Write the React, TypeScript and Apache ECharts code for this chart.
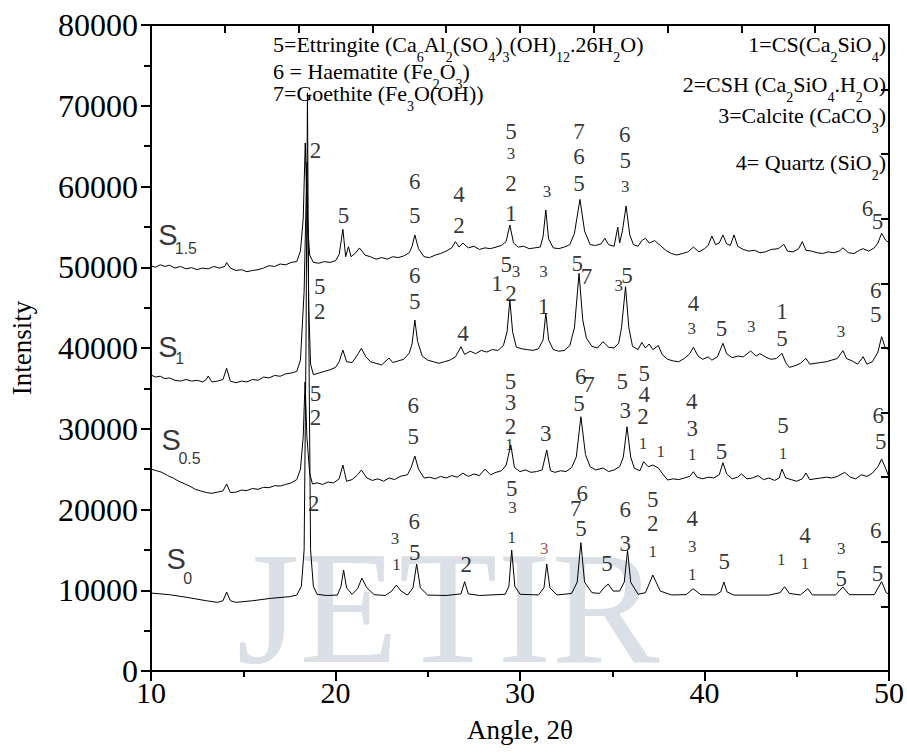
import { useEffect, useRef } from "react";
import * as echarts from "echarts";

// ---------- data: [angle (2θ), intensity] ----------
const S0: number[][] = [
  [10, 9650], [11, 9450], [12, 9100], [13, 8700], [13.6, 8500], [13.9, 8700], [14.1, 9780], [14.3, 8700],
  [14.6, 8500], [15.5, 8700], [16.5, 9000], [17.5, 9200], [17.9, 9400], [18.15, 10500], [18.3, 15000],
  [18.4, 40000], [18.48, 71600], [18.56, 40000], [18.65, 15000], [18.8, 10500], [19.0, 9500], [19.5, 9350],
  [20.1, 9400], [20.3, 10500], [20.44, 12500], [20.6, 10300], [20.9, 9500], [21.2, 10200], [21.43, 11500],
  [21.7, 10300], [22.1, 9450], [22.7, 9350], [23.05, 9900], [23.3, 10650], [23.55, 9900], [23.9, 9400],
  [24.2, 10300], [24.4, 13250], [24.6, 10300], [25, 9400], [26, 9350], [26.8, 9550], [27.0, 11060],
  [27.2, 9550], [27.8, 9350], [29.2, 9500], [29.4, 10500], [29.55, 14980], [29.72, 10500], [30, 9500],
  [31.0, 9420], [31.3, 10300], [31.45, 13250], [31.62, 10300], [32, 9420], [32.8, 9600], [33.1, 11000],
  [33.3, 15890], [33.5, 11000], [33.9, 9700], [34.3, 9600], [34.55, 10300], [34.78, 10770], [35.05, 9900],
  [35.4, 9900], [35.65, 11000], [35.83, 14900], [36.0, 11000], [36.4, 9500], [36.8, 9700], [37.2, 11890],
  [37.6, 9900], [38.2, 9420], [39.0, 9450], [39.38, 10190], [39.8, 9450], [40.6, 9420], [40.88, 9800],
  [41.05, 11020], [41.22, 9800], [41.6, 9400], [43.5, 9400], [44.1, 9700], [44.34, 10440], [44.6, 9600],
  [45.2, 9420], [45.6, 10190], [45.85, 9420], [47.1, 9420], [47.5, 10400], [47.85, 9450], [49.2, 9450],
  [49.6, 11060], [49.85, 9700], [50, 9500],
];

const S05: number[][] = [
  [10, 25000], [10.3, 24800], [10.6, 24600], [10.9, 24200], [11.2, 23900], [11.5, 23500], [11.8, 23200],
  [12.1, 22900], [12.4, 22500], [12.7, 22300], [13.0, 22100], [13.3, 22000], [13.6, 22150], [13.9, 22300],
  [14.1, 23160], [14.3, 22100], [14.6, 22150], [14.9, 22400], [15.2, 22350], [15.5, 22600], [15.8, 22500],
  [16.1, 22750], [16.4, 22700], [16.7, 22950], [17.0, 22900], [17.3, 23100], [17.6, 23300], [17.9, 23700],
  [18.1, 25000], [18.25, 29000], [18.35, 35800], [18.45, 29000], [18.6, 24500], [18.75, 23160], [19.0, 23300],
  [19.3, 23100], [19.6, 23400], [19.9, 23300], [20.2, 23800], [20.4, 25510], [20.6, 23500], [20.9, 23700],
  [21.2, 24300], [21.4, 24890], [21.7, 23900], [22.0, 23600], [22.3, 23800], [22.6, 23500], [22.9, 23900],
  [23.2, 23700], [23.5, 24100], [23.9, 24300], [24.1, 25200], [24.3, 26620], [24.5, 25000], [24.8, 23900],
  [25.1, 24000], [25.4, 23800], [25.7, 24100], [26.0, 23900], [26.3, 24200], [26.6, 24000], [26.9, 24500],
  [27.2, 24100], [27.5, 24400], [27.8, 24200], [28.1, 25000], [28.4, 24300], [28.7, 24600], [29.0, 24800],
  [29.25, 25500], [29.5, 27990], [29.7, 25200], [30.0, 24700], [30.3, 24900], [30.6, 24600], [30.9, 24700],
  [31.2, 24900], [31.45, 27370], [31.65, 24800], [31.9, 24600], [32.2, 24800], [32.5, 24700], [32.8, 25200],
  [33.05, 26500], [33.3, 31490], [33.55, 26800], [33.8, 25300], [34.1, 24900], [34.5, 25140], [34.8, 24700],
  [35.1, 24900], [35.4, 25300], [35.6, 26500], [35.8, 30250], [36.0, 26500], [36.2, 25100], [36.5, 24800],
  [36.7, 25920], [36.95, 25300], [37.2, 25500], [37.5, 25140], [37.7, 24500], [38.0, 23650], [38.3, 23800],
  [38.6, 23700], [38.9, 23900], [39.2, 24100], [39.4, 24680], [39.6, 24000], [39.9, 23800], [40.2, 24000],
  [40.5, 23900], [40.8, 24300], [41.0, 25800], [41.2, 24400], [41.5, 23800], [41.8, 24000], [42.0, 24400],
  [42.3, 23800], [42.6, 23900], [42.9, 24200], [43.2, 23700], [43.5, 23900], [43.8, 23600], [44.05, 23900],
  [44.2, 25010], [44.4, 23900], [44.7, 23700], [45.0, 23500], [45.3, 23800], [45.5, 24520], [45.7, 23700],
  [46.0, 23800], [46.3, 23900], [46.6, 24000], [46.9, 23900], [47.2, 24100], [47.6, 24600], [47.9, 24000],
  [48.2, 23800], [48.5, 24300], [48.8, 24100], [49.1, 24500], [49.4, 25300], [49.6, 26250], [49.8, 25200],
  [50, 24000],
];

const S1: number[][] = [
  [10, 36650], [10.25, 36400], [10.5, 36500], [10.75, 36200], [11.0, 36300], [11.3, 36000], [11.6, 35900],
  [11.9, 36100], [12.2, 35900], [12.5, 36000], [12.8, 35800], [13.0, 36100], [13.1, 36530], [13.3, 35800],
  [13.6, 35900], [13.9, 36100], [14.1, 37490], [14.3, 35900], [14.6, 35700], [14.9, 35900], [15.2, 35800],
  [15.5, 36100], [15.8, 36000], [16.1, 36400], [16.4, 36300], [16.7, 36600], [17.0, 36500], [17.3, 36800],
  [17.6, 36900], [17.9, 37100], [18.1, 38500], [18.3, 47000], [18.45, 63000], [18.55, 45000], [18.65, 38000],
  [18.8, 36700], [19.1, 36900], [19.4, 37100], [19.7, 37300], [20.0, 37600], [20.2, 38300], [20.4, 39750],
  [20.6, 38300], [20.9, 38200], [21.15, 39000], [21.4, 39960], [21.65, 38900], [21.9, 38300], [22.2, 38100],
  [22.5, 37900], [22.9, 38760], [23.1, 38200], [23.4, 38400], [23.7, 38600], [24.0, 39400], [24.15, 40500],
  [24.3, 43470], [24.45, 40800], [24.7, 39000], [25.0, 38500], [25.3, 38300], [25.6, 38100], [25.9, 38300],
  [26.2, 38500], [26.5, 38900], [26.8, 40160], [27.0, 39200], [27.3, 39600], [27.6, 39300], [27.9, 39700],
  [28.2, 39500], [28.5, 39800], [28.8, 39700], [29.1, 40300], [29.3, 42000], [29.45, 45950], [29.6, 42000],
  [29.8, 40100], [30.1, 39900], [30.4, 39800], [30.7, 39700], [31.0, 39900], [31.25, 41000], [31.4, 44300],
  [31.55, 41000], [31.8, 39800], [32.1, 39600], [32.4, 39700], [32.7, 40300], [32.95, 42500], [33.2, 49250],
  [33.4, 43500], [33.6, 41200], [33.9, 40200], [34.2, 40000], [34.5, 40780], [34.8, 40100], [35.1, 40000],
  [35.35, 40600], [35.5, 42500], [35.72, 47590], [35.9, 42500], [36.1, 40200], [36.4, 39800], [36.6, 40700],
  [36.8, 40000], [37.0, 40500], [37.2, 39800], [37.5, 40300], [37.7, 39200], [38.0, 38600], [38.3, 38400],
  [38.6, 38300], [38.9, 38700], [39.2, 39300], [39.4, 40090], [39.65, 39000], [39.9, 38600], [40.2, 38900],
  [40.4, 38500], [40.7, 38900], [41.0, 40580], [41.2, 39300], [41.5, 38800], [41.8, 39000], [42.1, 38900],
  [42.5, 39630], [42.8, 39000], [43.0, 39300], [43.3, 38900], [43.6, 38600], [43.9, 38700], [44.2, 39340],
  [44.4, 38200], [44.6, 37600], [44.9, 37800], [45.2, 38100], [45.5, 38720], [45.7, 38000], [46.0, 38100],
  [46.3, 38200], [46.6, 38300], [46.9, 38500], [47.2, 38700], [47.5, 39670], [47.7, 38700], [48.0, 38400],
  [48.3, 38000], [48.6, 38920], [48.8, 38000], [49.1, 38300], [49.4, 39500], [49.6, 41400], [49.8, 40000],
  [50, 39800],
];

const S15: number[][] = [
  [10, 50160], [10.25, 50000], [10.5, 50300], [10.75, 50100], [11.0, 50250], [11.3, 49900], [11.6, 50100],
  [11.9, 49800], [12.2, 49950], [12.5, 49700], [12.8, 49900], [13.1, 49800], [13.4, 50100], [13.7, 49900],
  [14.0, 50100], [14.1, 50570], [14.3, 49900], [14.6, 49600], [14.9, 49700], [15.2, 49450], [15.5, 49600],
  [15.8, 49700], [16.1, 49900], [16.4, 50200], [16.7, 50100], [17.0, 50400], [17.3, 50300], [17.6, 50600],
  [17.9, 50700], [18.1, 52000], [18.25, 56000], [18.36, 65400], [18.47, 56000], [18.6, 51500], [18.8, 50600],
  [19.1, 50500], [19.4, 50700], [19.7, 50600], [20.0, 50800], [20.2, 51600], [20.4, 54700], [20.55, 51300],
  [20.7, 52550], [20.85, 51300], [21.1, 51800], [21.3, 52390], [21.6, 51500], [21.9, 51300], [22.2, 51000],
  [22.5, 51200], [22.8, 51000], [23.1, 51300], [23.4, 51200], [23.7, 51400], [24.0, 51800], [24.15, 52600],
  [24.3, 54000], [24.5, 52300], [24.8, 51300], [25.1, 51200], [25.4, 51500], [25.7, 51700], [26.0, 52000],
  [26.3, 52400], [26.5, 53170], [26.7, 52500], [26.9, 53000], [27.2, 52400], [27.5, 52600], [27.8, 52200],
  [28.1, 52400], [28.4, 52300], [28.7, 52500], [29.0, 52700], [29.25, 53200], [29.45, 55230], [29.65, 53000],
  [29.9, 52500], [30.2, 52600], [30.5, 52300], [30.8, 52400], [31.1, 52500], [31.25, 53800], [31.4, 57090],
  [31.55, 53500], [31.8, 52400], [32.1, 52300], [32.4, 52500], [32.7, 52800], [32.95, 54200], [33.25, 58400],
  [33.5, 54500], [33.8, 52800], [34.1, 52700], [34.4, 52900], [34.6, 53600], [34.8, 52800], [35.1, 52600],
  [35.3, 54980], [35.4, 53000], [35.55, 54500], [35.75, 57590], [35.95, 54000], [36.15, 52800], [36.4, 52600],
  [36.6, 53300], [36.8, 53590], [37.0, 53000], [37.3, 53300], [37.6, 52700], [37.9, 52100], [38.2, 51700],
  [38.5, 51520], [38.8, 51700], [39.1, 51900], [39.4, 52500], [39.7, 51900], [40.0, 52300], [40.2, 52700],
  [40.4, 53870], [40.6, 52800], [40.8, 53000], [41.0, 54000], [41.2, 52900], [41.4, 52700], [41.6, 54000],
  [41.8, 52600], [42.1, 52200], [42.4, 52000], [42.7, 52100], [43.0, 51800], [43.3, 51900], [43.6, 52200],
  [44.0, 52300], [44.3, 52840], [44.5, 52000], [44.8, 51900], [45.1, 52300], [45.3, 53170], [45.5, 52100],
  [45.8, 52000], [46.1, 51800], [46.4, 51700], [46.7, 51900], [47.0, 51800], [47.3, 52000], [47.5, 52400],
  [47.8, 51800], [48.1, 51700], [48.4, 52100], [48.6, 52300], [48.9, 52000], [49.2, 52400], [49.4, 53000],
  [49.6, 54200], [49.8, 53400], [50, 53000],
];

// ---------- peak annotations: [angle, intensity, phase number, kind] ----------
type Ann = [number, number, string, string];
const S15_PEAKS: Ann[] = [
  [18.91, 64520, "2", "b"], [20.44, 56470, "5", "b"],
  [24.3, 60600, "6", "b"], [24.3, 56350, "5", "b"],
  [26.7, 58950, "4", "b"], [26.7, 55110, "2", "b"],
  [29.51, 66790, "5", "b"], [29.51, 64030, "3", "s"], [29.51, 60400, "2", "b"], [29.51, 56680, "1", "b"],
  [31.46, 59360, "3", "s"],
  [33.2, 66790, "7", "b"], [33.2, 63690, "6", "b"], [33.2, 60400, "5", "b"],
  [35.68, 66380, "6", "b"], [35.7, 63280, "5", "b"], [35.7, 59980, "3", "s"],
  [48.83, 57300, "6", "b"], [49.37, 55640, "5", "b"],
];
const S1_PEAKS: Ann[] = [
  [19.15, 47590, "5", "b"], [19.15, 44500, "2", "b"],
  [24.3, 49040, "6", "b"], [24.3, 45730, "5", "b"],
  [26.91, 41820, "4", "b"],
  [28.76, 48010, "1", "b"], [29.25, 50280, "5", "b"], [29.78, 49450, "3", "s"], [29.51, 46780, "2", "b"],
  [31.27, 49450, "3", "s"], [31.27, 45110, "1", "b"],
  [33.1, 50490, "5", "b"], [33.6, 48830, "7", "b"],
  [35.35, 47800, "3", "s"], [35.8, 49040, "5", "b"],
  [39.4, 45540, "4", "b"], [39.31, 42440, "3", "s"],
  [40.92, 42440, "5", "b"],
  [42.54, 42650, "3", "s"],
  [44.2, 44500, "1", "b"], [44.2, 41200, "5", "b"],
  [47.4, 42020, "3", "s"],
  [49.28, 47180, "6", "b"], [49.28, 44090, "5", "b"],
];
const S05_PEAKS: Ann[] = [
  [18.91, 34390, "5", "b"], [18.91, 31420, "2", "b"],
  [24.21, 32820, "6", "b"], [24.21, 29020, "5", "b"],
  [29.48, 35830, "5", "b"], [29.48, 33230, "3", "b"], [29.48, 30340, "2", "b"], [29.43, 27990, "1", "s"],
  [31.4, 29440, "3", "b"],
  [33.29, 36530, "6", "b"], [33.74, 35420, "7", "b"], [33.2, 33150, "5", "b"],
  [35.54, 35830, "5", "b"], [35.71, 32320, "3", "b"],
  [36.74, 36860, "5", "b"], [36.74, 34180, "4", "b"], [36.67, 31490, "2", "b"], [36.67, 28200, "1", "s"],
  [37.63, 27160, "1", "s"],
  [39.31, 33360, "4", "b"], [39.34, 30050, "3", "b"], [39.34, 26750, "1", "s"],
  [40.92, 27160, "5", "b"],
  [44.25, 30460, "5", "b"], [44.25, 26960, "1", "s"],
  [49.42, 31700, "6", "b"], [49.55, 28400, "5", "b"],
];
const S0_PEAKS: Ann[] = [
  [18.82, 20770, "2", "b"],
  [23.22, 16430, "3", "s"], [23.31, 13130, "1", "s"],
  [24.27, 18490, "6", "b"], [24.3, 14650, "5", "b"],
  [27.09, 13130, "2", "b"],
  [29.55, 22630, "5", "b"], [29.6, 20220, "3", "s"], [29.55, 16560, "1", "s"],
  [31.31, 15200, "3", "r"],
  [33.37, 22010, "6", "b"], [33.02, 20150, "7", "b"], [33.3, 17670, "5", "b"],
  [34.72, 13340, "5", "b"],
  [35.71, 19940, "6", "b"], [35.71, 15810, "3", "b"],
  [37.19, 21300, "5", "b"], [37.19, 18290, "2", "b"], [37.19, 14860, "1", "s"],
  [39.34, 18910, "4", "b"], [39.34, 15390, "3", "s"], [39.34, 12010, "1", "s"],
  [41.07, 13540, "5", "b"],
  [44.16, 13750, "1", "s"],
  [45.45, 16840, "4", "b"], [45.45, 13340, "1", "s"],
  [47.41, 15200, "3", "s"], [47.41, 11480, "5", "b"],
  [49.28, 17460, "6", "b"], [49.37, 12100, "5", "b"],
];

// sample tags: [angle, intensity, text, kind] (kind m = main letter, u = subscript)
const SAMPLE_TAGS: Ann[] = [
  [10.92, 53990, "S", "m"], [11.89, 52380, "1.5", "u"],
  [10.92, 40160, "S", "m"], [11.55, 38720, "1", "u"],
  [11.09, 28610, "S", "m"], [12.09, 26340, "0.5", "u"],
  [11.36, 13830, "S", "m"], [11.99, 11480, "0", "u"],
];

const LEGEND_LEFT = [
  "5=Ettringite (Ca_6Al_2(SO_4)_3(OH)_{12}.26H_2O)",
  "6 = Haematite (Fe_2O_3)",
  "7=Goethite (Fe_3O(OH))",
];
const LEGEND_RIGHT = [
  "1=CS(Ca_2SiO_4)",
  "2=CSH (Ca_2SiO_4.H_2O)",
  "3=Calcite (CaCO_3)",
  "4= Quartz (SiO_2)",
];

const SERIF = "Liberation Serif";
const SANS = "Liberation Sans";

function richify(src: string): string {
  let out = "";
  let buf = "";
  const flush = () => {
    if (buf) {
      out += `{n|${buf}}`;
      buf = "";
    }
  };
  for (let i = 0; i < src.length; i++) {
    const c = src[i];
    if (c === "_") {
      flush();
      let sub = "";
      if (src[i + 1] === "{") {
        const j = src.indexOf("}", i + 2);
        sub = src.slice(i + 2, j);
        i = j;
      } else {
        sub = src[i + 1];
        i += 1;
      }
      out += `{s|${sub}}`;
    } else {
      buf += c;
    }
  }
  flush();
  return out;
}

const RICH = {
  n: { font: `22px "${SERIF}"`, fontSize: 22, fontFamily: SERIF, lineHeight: 31, verticalAlign: "top", fill: "#000" },
  s: { font: `14px "${SERIF}"`, fontSize: 14, fontFamily: SERIF, lineHeight: 31, verticalAlign: "bottom", fill: "#000" },
};

export default function App() {
  const ref = useRef<HTMLDivElement>(null);

  useEffect(() => {
    if (!ref.current) return;
    const chart = echarts.init(ref.current, undefined, { renderer: "svg" });

    const peakData: any[] = [];
    const pushAnn = (list: Ann[]) => {
      for (const [a, v, t, k] of list) {
        const small = k === "s" || k === "r";
        peakData.push({
          value: [a, v],
          label: {
            formatter: t,
            fontSize: small ? 17 : 23,
            fontFamily: SERIF,
            color: k === "r" ? "#8b1c1c" : "#000",
          },
        });
      }
    };
    pushAnn(S15_PEAKS);
    pushAnn(S1_PEAKS);
    pushAnn(S05_PEAKS);
    pushAnn(S0_PEAKS);

    const tagData = SAMPLE_TAGS.map(([a, v, t, k]) => ({
      value: [a, v],
      label: { formatter: t, fontSize: k === "m" ? 29 : 16, fontFamily: SANS, color: "#000" },
    }));

    const lineSeries = (name: string, data: number[][]) => ({
      name,
      type: "line",
      data,
      showSymbol: false,
      symbol: "none",
      smooth: false,
      lineStyle: { color: "#000", width: 1 },
      z: 3,
      silent: true,
    });

    const axisLine = { show: true, onZero: false, lineStyle: { color: "#000", width: 2 } };

    const graphics: any[] = [
      {
        type: "text",
        x: 448,
        y: 688,
        z: -10,
        silent: true,
        style: {
          text: "JETIR",
          font: `162px "${SERIF}"`,
          fontSize: 162,
          fontFamily: SERIF,
          fill: "#dae0e5",
          align: "center",
          verticalAlign: "bottom",
        },
      },
    ];
    const leftY = [33, 60, 82];
    LEGEND_LEFT.forEach((t, i) => {
      graphics.push({
        type: "text",
        x: 273,
        y: leftY[i],
        z: 10,
        silent: true,
        style: { text: richify(t), rich: RICH, align: "left", verticalAlign: "top" },
      });
    });
    const rightY = [33, 73, 104, 151];
    LEGEND_RIGHT.forEach((t, i) => {
      graphics.push({
        type: "text",
        x: 886,
        y: rightY[i],
        z: 10,
        silent: true,
        style: { text: richify(t), rich: RICH, align: "right", verticalAlign: "top" },
      });
    });

    chart.setOption({
      animation: false,
      backgroundColor: "#fff",
      textStyle: { fontFamily: SERIF },
      grid: { left: 148, right: 17, top: 25, bottom: 85, containLabel: false },
      xAxis: [
        {
          type: "value",
          position: "bottom",
          min: 10,
          max: 50,
          interval: 10,
          axisLine,
          axisTick: { show: true, inside: false, length: 10, lineStyle: { color: "#000", width: 2 } },
          minorTick: { show: true, splitNumber: 2, length: 6, lineStyle: { color: "#000", width: 2 } },
          splitLine: { show: false },
          axisLabel: { fontFamily: SERIF, fontSize: 30, color: "#000", margin: 6 },
          name: "Angle, 2θ",
          nameLocation: "middle",
          nameGap: 45,
          nameTextStyle: { fontFamily: SERIF, fontSize: 27, color: "#000" },
        },
        {
          type: "value",
          position: "top",
          min: 10,
          max: 50,
          interval: 4,
          axisLine,
          axisTick: { show: true, inside: true, length: 8, lineStyle: { color: "#000", width: 2 } },
          axisLabel: { show: false },
          splitLine: { show: false },
        },
      ],
      yAxis: [
        {
          type: "value",
          position: "left",
          min: 0,
          max: 80000,
          interval: 10000,
          axisLine,
          axisTick: { show: true, inside: false, length: 10, lineStyle: { color: "#000", width: 2 } },
          minorTick: { show: true, splitNumber: 2, length: 7, lineStyle: { color: "#000", width: 2 } },
          splitLine: { show: false },
          axisLabel: {
            fontFamily: SERIF,
            fontSize: 32,
            color: "#000",
            margin: 13,
            formatter: (v: number) => String(v),
          },
          name: "Intensity",
          nameLocation: "middle",
          nameRotate: 90,
          nameGap: 116,
          nameTextStyle: { fontFamily: SERIF, fontSize: 27, color: "#000" },
        },
        {
          type: "value",
          position: "right",
          min: 0,
          max: 80000,
          interval: 8000,
          axisLine,
          axisTick: { show: true, inside: true, length: 8, lineStyle: { color: "#000", width: 2 } },
          axisLabel: { show: false },
          splitLine: { show: false },
        },
      ],
      series: [
        lineSeries("S0", S0),
        lineSeries("S0.5", S05),
        lineSeries("S1", S1),
        lineSeries("S1.5", S15),
        {
          name: "peak labels",
          type: "scatter",
          data: peakData,
          symbolSize: 0,
          silent: true,
          itemStyle: { color: "transparent" },
          label: { show: true, position: "inside", color: "#000", fontFamily: SERIF, fontSize: 23 },
          z: 5,
        },
        {
          name: "sample tags",
          type: "scatter",
          data: tagData,
          symbolSize: 0,
          silent: true,
          itemStyle: { color: "transparent" },
          label: { show: true, position: "inside", color: "#000", fontFamily: SANS, fontSize: 29 },
          z: 5,
        },
      ],
      graphic: graphics,
    });

    return () => chart.dispose();
  }, []);

  return (
    <div
      ref={ref}
      style={{ position: "fixed", left: 0, top: 0, width: 907, height: 756, background: "#fff" }}
    />
  );
}
